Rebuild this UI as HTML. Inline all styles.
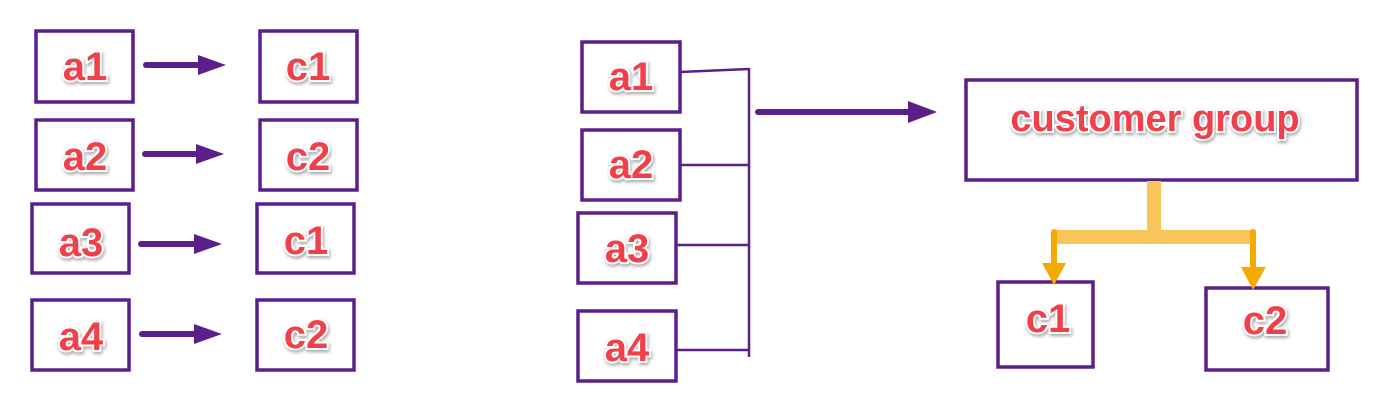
<!DOCTYPE html>
<html><head><meta charset="utf-8"><style>
html,body{margin:0;padding:0;background:#fff;}
svg{display:block}
text{font-family:"Liberation Sans",Arial,sans-serif;font-weight:bold;fill:#f2404a;paint-order:stroke;stroke:#fff;stroke-width:4px;filter:drop-shadow(1px 2px 1.5px rgba(0,0,0,0.35));}
</style></head><body>
<svg width="1387" height="414" viewBox="0 0 1387 414">
<g fill="none" stroke="#5b1f8a" stroke-width="3.5">
<rect x="36" y="31" width="97" height="71"/><rect x="260" y="31" width="97" height="71"/>
<rect x="36" y="120" width="97" height="70"/><rect x="260" y="120" width="97" height="70"/>
<rect x="32" y="204" width="97" height="69"/><rect x="257" y="204" width="97" height="69"/>
<rect x="32" y="300" width="97" height="70"/><rect x="257" y="300" width="97" height="70"/>
<rect x="582" y="42" width="98" height="70"/><rect x="582" y="130" width="98" height="70"/>
<rect x="578" y="213" width="98" height="70"/><rect x="578" y="311" width="98" height="70"/>
<rect x="966" y="80" width="391" height="100"/>
<rect x="998" y="282" width="95" height="85"/><rect x="1206" y="288" width="122" height="82"/>
</g>
<g stroke="#5b1f8a" stroke-width="6" stroke-linecap="round">
<line x1="146" y1="65" x2="200" y2="65"/><line x1="145" y1="154" x2="198" y2="154"/>
<line x1="141" y1="244" x2="196" y2="244"/><line x1="142" y1="334" x2="196" y2="334"/>
<line x1="758" y1="112" x2="910" y2="112"/>
</g>
<g fill="#5b1f8a">
<path d="M198,55 L226,65 L198,75z"/><path d="M196,144 L224,154 L196,164z"/>
<path d="M194,234 L222,244 L194,254z"/><path d="M194,324 L222,334 L194,344z"/>
<path d="M908,101 L937,112 L908,123z"/>
</g>
<g stroke="#5b1f8a" stroke-width="2.5" fill="none">
<line x1="680" y1="72" x2="749" y2="69"/><line x1="680" y1="165" x2="749" y2="165"/>
<line x1="676" y1="245" x2="749" y2="245"/><line x1="676" y1="350" x2="749" y2="350"/>
<line x1="749" y1="68" x2="749" y2="357"/>
</g>
<g stroke="#f7c55a" stroke-width="14">
<line x1="1154" y1="181" x2="1154" y2="236"/>
<line x1="1052" y1="237" x2="1256" y2="237"/>
</g>
<g stroke="#f5aa00" stroke-width="6" stroke-linecap="round">
<line x1="1054" y1="232" x2="1054" y2="265"/><line x1="1253" y1="232" x2="1253" y2="268"/>
</g>
<g fill="#f5aa00">
<path d="M1042,263 L1066,263 L1054,285z"/><path d="M1241,267 L1266,267 L1253,290z"/>
</g>
<g font-size="40" text-anchor="middle">
<text x="85" y="80">a1</text><text x="308" y="80">c1</text>
<text x="85" y="170">a2</text><text x="308" y="170">c2</text>
<text x="81" y="256">a3</text><text x="306" y="254">c1</text>
<text x="81" y="350">a4</text><text x="306" y="348">c2</text>
<text x="631" y="90">a1</text><text x="631" y="178">a2</text>
<text x="627" y="262">a3</text><text x="627" y="361">a4</text>
<text x="1048" y="332">c1</text><text x="1265" y="334">c2</text>
</g>
<text x="1155" y="131" font-size="38" text-anchor="middle">customer group</text>
</svg>
</body></html>
